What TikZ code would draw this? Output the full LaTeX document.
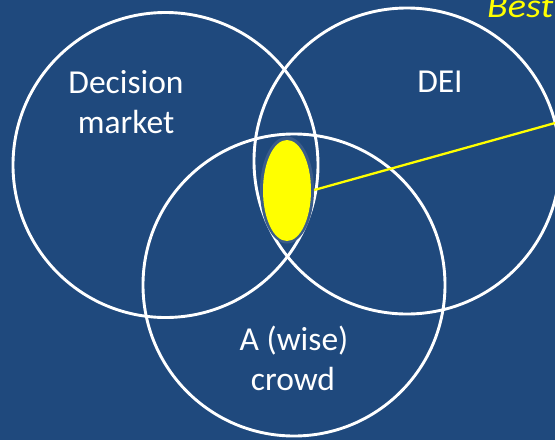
\documentclass[tikz,border=0pt]{standalone}
\usepackage{fontspec}
\setmainfont{Carlito}
\usetikzlibrary{shapes.geometric}
\definecolor{bg}{RGB}{31,73,125}
\definecolor{halo}{RGB}{58,92,138}
\definecolor{hl}{RGB}{255,255,0}
\begin{document}
\begin{tikzpicture}[x=1pt,y=-1pt,
  venn/.style={circle,draw=white,line width=2.9pt,minimum size=305pt,inner sep=0pt},
  lbl/.style={text=white,font=\fontsize{33.5}{40}\selectfont,anchor=base,inner sep=0pt}]
\useasboundingbox (0,0) rectangle (555,440);
\fill[bg] (0,0) rectangle (555,440);
\clip (0,0) rectangle (555,440);
\node[venn] (dm) at (165.5,165) {};
\node[venn, minimum size=306pt] (dei) at (407,161) {};
\node[venn, minimum size=302pt] (crowd) at (294,285) {};
\node[ellipse, fill=halo, minimum width=54pt, minimum height=107pt, inner sep=0pt] (halo) at (287,190) {};
\node[ellipse, fill=hl, minimum width=48pt, minimum height=101pt, inner sep=0pt] (spot) at (287,190.5) {};
\coordinate (far) at (600,110.5);
\draw[hl, line width=2.3pt] (halo.east) -- (far);
\node[anchor=base west, text=hl, font=\itshape\fontsize{34}{40}\selectfont, inner sep=0pt] (best) at (487,17.5) {\scalebox{1.12}[1]{Best}};
\node[lbl] (dm1) at (126,93) {Decision};
\node[lbl] (dm2) at (126,133) {market};
\node[lbl] (deil) at (440,92) {DEI};
\node[lbl] (c1) at (294,350) {A (wise)};
\node[lbl] (c2) at (293,390) {crowd};
\end{tikzpicture}
\end{document}
